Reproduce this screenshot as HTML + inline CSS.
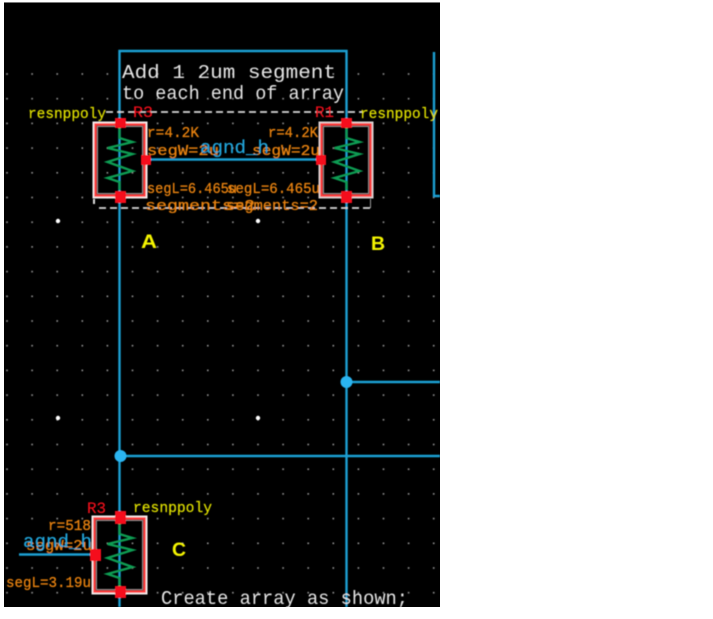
<!DOCTYPE html>
<html>
<head>
<meta charset="utf-8">
<style>
html,body{margin:0;padding:0;background:#fff;width:713px;height:619px;overflow:hidden}
svg{display:block;font-family:"Liberation Mono",monospace}
</style>
</head>
<body>
<svg width="713" height="619" viewBox="0 0 713 619" xmlns="http://www.w3.org/2000/svg">
<defs>
<pattern id="g" x="5.7" y="72.7" width="25.1" height="24.7" patternUnits="userSpaceOnUse">
<rect x="0.5" y="0.5" width="1.6" height="1.6" fill="#969696"/>
</pattern>
<g id="z">
<polyline points="0,0 0,10 13,14 -12,20 13,26 -12,34 13,43 -12,50 0,54 0,62" fill="none" stroke="#0c9c52" stroke-width="2.400"/>
</g>
<filter id="b" x="0" y="0" width="100%" height="100%" filterUnits="userSpaceOnUse" primitiveUnits="userSpaceOnUse">
<feGaussianBlur stdDeviation="0.450"/>
</filter>
<clipPath id="c"><rect x="4" y="2" width="436" height="605"/></clipPath>
</defs>
<rect x="4" y="2" width="436" height="605" fill="#000"/>
<rect x="4" y="2" width="436" height="1" fill="#777"/>
<g clip-path="url(#c)">
<g filter="url(#b)">
<rect x="4" y="72" width="436" height="533" fill="url(#g)"/>
<g fill="#fff">
<circle cx="58" cy="221" r="2.200"/><circle cx="258" cy="221" r="2.200"/>
<circle cx="58" cy="418" r="2.200"/><circle cx="258" cy="418" r="2.200"/>
</g>

<!-- wires -->
<g fill="none" stroke="#1c9fd2" stroke-width="2.400">
<polyline points="119.500,607 119.500,51 346.500,51 346.500,607"/>
<polyline points="434,52 434,196 440,196"/>
<line x1="146" y1="159.500" x2="320" y2="159.500"/>
<line x1="346" y1="382" x2="440" y2="382"/>
<line x1="120" y1="456" x2="440" y2="456"/>
<line x1="19" y1="554.500" x2="92" y2="554.500"/>
</g>
<circle cx="346.500" cy="382" r="6" fill="#2bb4f0"/>
<circle cx="120.500" cy="456" r="6" fill="#2bb4f0"/>

<!-- dashed selection -->
<g fill="none" stroke="#d8d8d8" stroke-width="1.800" stroke-dasharray="7 4">
<line x1="106" y1="112" x2="362" y2="112"/>
<line x1="99" y1="208" x2="370" y2="208"/>
</g>
<rect x="93" y="199" width="2" height="5" fill="#ddd"/>
<rect x="370" y="199" width="1" height="9" fill="#999"/>

<!-- resistor A -->
<g fill="none">
<rect x="93.500" y="122.500" width="53" height="75" stroke="#f4eeee" stroke-width="2"/>
<rect x="95.500" y="124.500" width="49" height="71" stroke="#ff3b3b" stroke-width="2.400"/>
<rect x="97.500" y="126.500" width="45" height="67" stroke="#9a9a9a" stroke-width="1"/>
</g>
<use href="#z" x="119.500" y="128"/>
<g fill="#f5101c">
<rect x="115" y="118" width="11" height="10"/>
<rect x="115" y="191" width="11" height="12"/>
<rect x="141" y="155" width="10" height="10"/>
</g>

<!-- resistor B -->
<g fill="none">
<rect x="319.500" y="122.500" width="53" height="75" stroke="#dcd4d4" stroke-width="2"/>
<rect x="321.500" y="124.500" width="49" height="71" stroke="#ff3b3b" stroke-width="2.400"/>
<rect x="323.500" y="126.500" width="45" height="67" stroke="#9a9a9a" stroke-width="1"/>
</g>
<use href="#z" x="346.500" y="128"/>
<g fill="#f5101c">
<rect x="341" y="118" width="11" height="10"/>
<rect x="341" y="191" width="11" height="12"/>
<rect x="316" y="155" width="10" height="10"/>
</g>

<!-- resistor C -->
<g fill="none">
<rect x="92.500" y="516.500" width="54" height="77" stroke="#f4eeee" stroke-width="2"/>
<rect x="94.500" y="518.500" width="50" height="73" stroke="#ff3b3b" stroke-width="2.400"/>
<rect x="96.500" y="520.500" width="46" height="69" stroke="#9a9a9a" stroke-width="1"/>
</g>
<use href="#z" x="119.500" y="524"/>
<g fill="#f5101c">
<rect x="115" y="511" width="11" height="13"/>
<rect x="115" y="586" width="11" height="12"/>
<rect x="90" y="549" width="11" height="12"/>
</g>

<!-- white notes -->
<g fill="#e6e6e6" font-size="19">
<text x="122" y="78" textLength="214" lengthAdjust="spacingAndGlyphs">Add 1 2um segment</text>
<text x="122" y="99" textLength="222" lengthAdjust="spacingAndGlyphs">to each end of array</text>
<text x="161" y="604" textLength="247" lengthAdjust="spacingAndGlyphs">Create array as shown;</text>
</g>

<!-- yellow -->
<g fill="#e0e000" font-size="15" stroke="#e0e000" stroke-width="0.200">
<text x="28" y="118" textLength="78" lengthAdjust="spacingAndGlyphs">resnppoly</text>
<text x="360" y="118" textLength="78" lengthAdjust="spacingAndGlyphs">resnppoly</text>
<text x="133" y="512" textLength="79" lengthAdjust="spacingAndGlyphs">resnppoly</text>
</g>
<g fill="#f4f400" font-size="19" font-weight="bold" style="font-family:'Liberation Sans',sans-serif">
<text x="141" y="248" textLength="16" lengthAdjust="spacingAndGlyphs">A</text>
<text x="371" y="250" textLength="14" lengthAdjust="spacingAndGlyphs">B</text>
<text x="172" y="556" textLength="14" lengthAdjust="spacingAndGlyphs">C</text>
</g>

<!-- red -->
<g fill="#f0101c" font-size="16" stroke="#f0101c" stroke-width="0.200">
<text x="133" y="117" textLength="20" lengthAdjust="spacingAndGlyphs">R3</text>
<text x="315" y="117" textLength="19" lengthAdjust="spacingAndGlyphs">R1</text>
<text x="87" y="513" textLength="19" lengthAdjust="spacingAndGlyphs">R3</text>
</g>

<!-- orange -->
<g fill="#e8820f" font-size="15" stroke="#e8820f" stroke-width="0.300">
<text x="147" y="137" textLength="52" lengthAdjust="spacingAndGlyphs">r=4.2K</text>
<text x="268" y="137" textLength="50" lengthAdjust="spacingAndGlyphs">r=4.2K</text>
<text x="147" y="155" textLength="72" lengthAdjust="spacingAndGlyphs">segW=2u</text>
<text x="252" y="155" textLength="68" lengthAdjust="spacingAndGlyphs">segW=2u</text>
<text x="147" y="193" textLength="90" lengthAdjust="spacingAndGlyphs">segL=6.465u</text>
<text x="227" y="193" textLength="93" lengthAdjust="spacingAndGlyphs">segL=6.465u</text>
<text x="145" y="210" textLength="110" lengthAdjust="spacingAndGlyphs">segments=2</text>
<text x="226" y="210" textLength="92" lengthAdjust="spacingAndGlyphs">segments=2</text>
<text x="48" y="530" textLength="43" lengthAdjust="spacingAndGlyphs">r=518</text>
<text x="26" y="550" textLength="66" lengthAdjust="spacingAndGlyphs">segW=2u</text>
<text x="6" y="587" textLength="85" lengthAdjust="spacingAndGlyphs">segL=3.19u</text>
</g>

<!-- net labels -->
<g fill="#22a6dc" font-size="18" stroke="#22a6dc" stroke-width="0.200">
<text x="200" y="153" textLength="69" lengthAdjust="spacingAndGlyphs">agnd_h</text>
<text x="23" y="547" textLength="69" lengthAdjust="spacingAndGlyphs">agnd_h</text>
</g>
</g>
</g>
</svg>
</body>
</html>
